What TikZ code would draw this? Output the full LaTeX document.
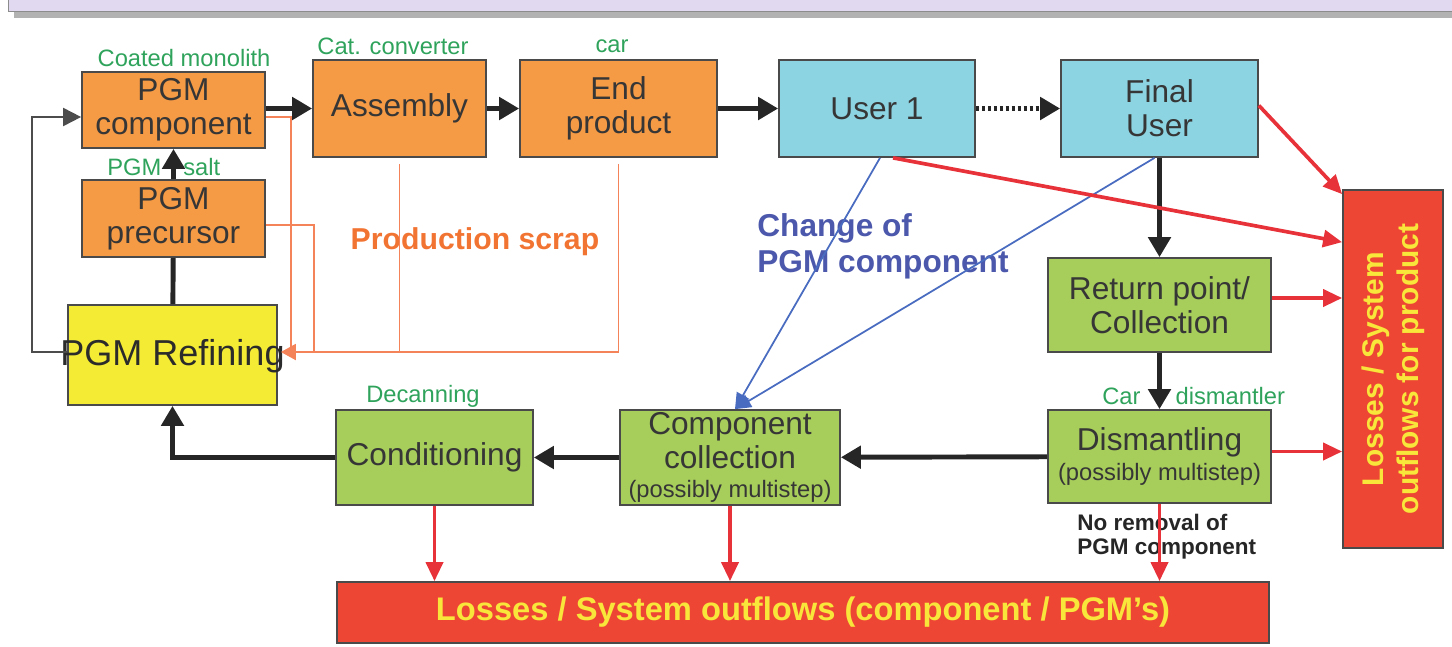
\documentclass[tikz,border=0pt]{standalone}
\usepackage{fontspec}
\setmainfont{Liberation Sans}
\usetikzlibrary{arrows.meta}

\definecolor{banner}{HTML}{E1D9F0}
\definecolor{boxorange}{HTML}{F59A45}
\definecolor{boxblue}{HTML}{8DD4E2}
\definecolor{boxgreen}{HTML}{A7CD5B}
\definecolor{refyellow}{HTML}{F4EC34}
\definecolor{lossred}{HTML}{EE4634}
\definecolor{lossyellow}{HTML}{F8E73A}
\definecolor{taggreen}{HTML}{2FA35B}
\definecolor{scrapline}{HTML}{F5835A}
\definecolor{scraptext}{HTML}{F27433}
\definecolor{changeline}{HTML}{4A6CC0}
\definecolor{changetext}{HTML}{4B58AB}
\definecolor{boxline}{HTML}{4A4A4A}
\definecolor{boxtext}{HTML}{363636}
\definecolor{flowred}{HTML}{E8323A}

\tikzset{
  box/.style={draw=boxline, line width=1pt, text=boxtext, align=center,
    inner sep=0pt, font=\fontsize{18}{19.5}\selectfont},
  obox/.style={box, fill=boxorange},
  ubox/.style={box, fill=boxblue},
  gbox/.style={box, fill=boxgreen},
  lossbox/.style={draw=boxline, line width=1pt, fill=lossred, inner sep=0pt},
  losstext/.style={text=lossyellow, align=center,
    font=\bfseries\fontsize{17}{20}\selectfont},
  tag/.style={text=taggreen, inner sep=0pt, font=\fontsize{13.5}{15}\selectfont},
  flow/.style={line width=2.8pt, black!85,
    -{Triangle[length=0.4cm, width=0.44cm]}},
  trunk/.style={line width=2.8pt, black!85},
  loss/.style={line width=2.1pt, flowred,
    -{Triangle[length=0.38cm, width=0.34cm]}},
  scrap/.style={line width=1.1pt, scrapline},
  change/.style={line width=1pt, changeline,
    -{Triangle[length=0.32cm, width=0.28cm]}},
  back/.style={line width=1.1pt, black!70,
    -{Triangle[length=0.36cm, width=0.36cm]}}
}

\begin{document}
\begin{tikzpicture}[x=0.02cm, y=-0.02cm]
\useasboundingbox (0,0) rectangle (1452,646);

% banner of the slide
\fill[black!30] (14,3) rectangle (1452,18);
\draw[fill=banner, draw=black!45] (8,-10) rectangle (1462,11);

% production chain
\node[obox, minimum width=3.66cm, minimum height=1.52cm] (comp) at (173.5,110) {PGM\\component};
\node[obox, minimum width=3.66cm, minimum height=1.54cm] (prec) at (173.5,218.5) {PGM\\precursor};
\node[draw=boxline, line width=1pt, fill=refyellow, minimum width=4.18cm, minimum height=2.0cm] (refin) at (172.5,355) {};
\node[text=boxtext!80!black, font=\fontsize{20.5}{22}\selectfont, inner sep=0pt] (refintxt) at (172.5,356) {PGM Refining};
\node[obox, minimum width=3.46cm, minimum height=1.94cm] (asm) at (399.5,108.5) {Assembly};
\node[obox, minimum width=3.94cm, minimum height=1.94cm] (endp) at (618.5,108.5) {End\\product};

% users
\node[ubox, minimum width=3.92cm, minimum height=1.94cm] (user1) at (877,108.5) {User 1};
\node[ubox, minimum width=3.94cm, minimum height=1.94cm] (final) at (1159.5,108.5) {Final\\User};

% end of life chain
\node[gbox, minimum width=4.46cm, minimum height=1.88cm] (ret) at (1159.5,305) {Return point/\\Collection};
\node[gbox, minimum width=4.46cm, minimum height=1.86cm] (dism) at (1159.5,456.5) {Dismantling\\[-2pt]{\fontsize{13.5}{15}\selectfont (possibly multistep)}};
\node[gbox, minimum width=4.40cm, minimum height=1.90cm] (ccol) at (730,457.5) {Component\\collection\\[-3pt]{\fontsize{13.5}{15}\selectfont (possibly multistep)}};
\node[gbox, minimum width=3.94cm, minimum height=1.90cm] (cond) at (434.5,457.5) {Conditioning};

% losses
\node[lossbox, minimum width=18.64cm, minimum height=1.22cm] (lossb) at (803,612.5) {};
\node[losstext, font=\bfseries\fontsize{18.6}{20}\selectfont] (lossbtxt) at (lossb.center) {Losses / System outflows (component / PGM’s)};
\node[lossbox, minimum width=2.0cm, minimum height=7.16cm] (lossr) at (1393,369) {};
\node[losstext, rotate=90] (lossrtxt) at (lossr.center) {Losses / System\\outflows for product};

% green tags
\node[tag] (tcoat) at (184,58) {Coated monolith};
\node[tag] (tcat) at (393,46) {Cat. converter};
\node[tag] (tcar) at (612,46) {car};
\node[tag, anchor=west] (tsalt) at (107,167) {PGM\hspace{0.44cm}salt};
\node[tag] (tdecan) at (423,396) {Decanning};
\node[tag, anchor=west] (tdism) at (1102,396) {Car\hspace{0.7cm}dismantler};

% other texts
\node[text=scraptext, font=\bfseries\fontsize{17.2}{19}\selectfont] (scraplbl) at (475,242) {Production scrap};
\node[text=changetext, anchor=west, align=left, inner sep=0pt,
  font=\bfseries\fontsize{18}{20.5}\selectfont] (changelbl) at (757,246) {Change of\\PGM component};
\node[text=black!85, anchor=west, align=left, inner sep=0pt,
  font=\bfseries\fontsize{12.8}{13.5}\selectfont] (noremlbl) at (1077,537) {No removal of\\PGM component};

% production scrap back to refining
\coordinate (sj) at ([yshift=0.06cm]refin.east);
\draw[scrap] ([yshift=-0.14cm]comp.east) -| ([xshift=0.26cm]sj);
\draw[scrap] ([yshift=-0.13cm]prec.east) -| ([xshift=0.72cm]sj);
\draw[scrap] ([yshift=-0.12cm]asm.south) -- (asm.south |- sj);
\draw[scrap, -{Triangle[length=0.3cm, width=0.32cm]}] ([yshift=-0.12cm]endp.south) |- ([xshift=0.06cm]sj);

% main flows
\draw[trunk] (refin) -- (prec);
\draw[flow] (prec) -- (comp);
\draw[flow] (comp.east |- asm) -- (asm);
\draw[flow] (asm) -- (endp);
\draw[flow] (endp) -- (user1);
\draw[flow, dash pattern=on 2pt off 1.4pt] (user1) -- (final);
\draw[back] ([yshift=0.06cm]refin.west) -- ++(-35,0) |- ([yshift=-0.14cm]comp.west);
\draw[flow] (final) -- (ret);
\draw[flow] (ret) -- (dism);
\draw[flow] (dism) -- (ccol);
\draw[flow] (ccol) -- (cond);
\draw[flow] (cond.west) -| (refin.south);

% change of component
\draw[change] ([xshift=0.06cm]user1.south) -- ([xshift=0.1cm]ccol.north);
\draw[change] ([xshift=-0.1cm]final.south) -- ([xshift=0.1cm]ccol.north);

% losses
\draw[loss] (cond) -- (cond |- lossb.north);
\draw[loss] (ccol) -- (ccol |- lossb.north);
\draw[loss] (dism) -- (dism |- lossb.north);
\draw[loss] ([yshift=0.06cm]final.east) -- ([yshift=-0.1cm]lossr.north west);
\draw[loss] ([xshift=0.32cm]user1.south) -- ([yshift=-1.06cm]lossr.north west);
\draw[loss] ([yshift=0.14cm]ret.east) -- ([yshift=0.14cm]ret.east -| lossr.west);
\draw[loss] ([yshift=0.1cm]dism.east) -- ([yshift=0.1cm]dism.east -| lossr.west);

\end{tikzpicture}
\end{document}
